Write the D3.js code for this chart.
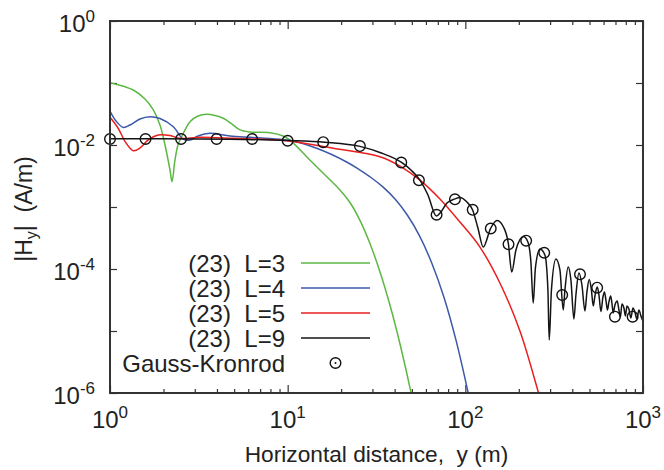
<!DOCTYPE html>
<html>
<head>
<meta charset="utf-8">
<script src="https://cdn.jsdelivr.net/npm/d3@7"></script>
<style>
body { margin: 0; background: #fff; }
text { font-family: "Liberation Sans", Arial, Helvetica, sans-serif; fill: #222; }
</style>
</head>
<body>
<script>
// (23) L=3
const l3X = [1, 1.352, 1.574, 1.753, 1.911, 2.04, 2.176, 2.233, 2.322, 2.413, 2.532, 2.82, 3.128, 3.501, 3.898, 4.341, 4.86, 5.39, 6.136, 7.95, 9.446, 10.3, 12.79, 15.86, 19.69, 22.42, 25.52, 29.05, 33.06, 37.64, 42.85, 49.41, 52.05];
const l3Y = [0.101, 0.0771, 0.0552, 0.0367, 0.021, 0.01, 0.00395, 0.00256, 0.00573, 0.01, 0.0136, 0.0238, 0.0294, 0.0313, 0.0299, 0.027, 0.0218, 0.0175, 0.0162, 0.0158, 0.014, 0.012, 0.00648, 0.0035, 0.00188, 1.18e-3, 6.08e-4, 2.58e-4, 9.04e-5, 2.62e-5, 6.22e-6, 1.02e-6, 4.65e-7];
// (23) L=4
const l4X = [1, 1.081, 1.188, 1.296, 1.475, 1.679, 1.911, 2.271, 2.585, 2.82, 3.128, 3.655, 4.735, 6.136, 7.95, 10.3, 14.56, 21.48, 25.16, 29.43, 34.47, 40.33, 47.23, 55.32, 64.7, 75.8, 88.6, 103.8, 108.9];
const l4Y = [0.0353, 0.0244, 0.0192, 0.021, 0.0263, 0.0286, 0.0267, 0.0197, 0.0124, 0.012, 0.014, 0.0154, 0.014, 0.0133, 0.0127, 0.0118, 0.00885, 0.00532, 4.04e-3, 2.99e-3, 2.09e-3, 1.33e-3, 7.35e-4, 3.4e-4, 1.25e-4, 3.51e-5, 7.11e-6, 1.0e-6, 5.16e-7];
// (23) L=5
const l5X = [1, 1.109, 1.23, 1.352, 1.475, 1.636, 1.87, 2.176, 2.477, 3.211, 4.942, 9.872, 18.06, 33.06, 42.85, 55.53, 71.96, 93.25, 120.8, 156.5, 202.9, 257.2, 269.8];
const l5Y = [0.028, 0.0188, 0.0108, 0.00809, 0.00895, 0.012, 0.0145, 0.0142, 0.0128, 0.0133, 0.0128, 0.0117, 0.00885, 0.00648, 0.00458, 0.00272, 1.35e-3, 5.73e-4, 2.26e-4, 5.95e-5, 1.0e-5, 1.04e-6, 6.33e-7];
// (23) L=9
const l9X = [1, 3.21, 10.17, 16.2, 25.5, 33.06, 43.98, 49.41, 55.53, 61.6, 68.78, 72.9, 78.8, 87.4, 93.25, 102.1, 109.9, 117.7, 126.1, 138.8, 150.6, 162.8, 174.8, 182.4, 192.7, 212.3, 225, 233.9, 241, 248, 262.9, 280.5, 291.6, 296.6, 305.2, 323.5, 340.7, 355.6, 363.5, 379.3, 392.9, 408.4, 419.2, 435.9, 453.2, 471.1, 483.5, 498.2, 512.5, 524.7, 536.3, 552.6, 564.9, 579.7, 594.9, 606.6, 618.5, 630.7, 643, 657.4, 668.3, 679.7, 695, 716, 731.9, 746.2, 761, 780.9, 796.3, 811.9, 833.2, 855.1, 877.5, 900.5, 924.1, 948.3, 973.2, 998.6];
const l9Y = [0.0126, 0.0125, 0.0118, 0.0111, 0.0095, 0.00757, 0.00518, 0.00395, 0.00272, 0.00156, 7.16e-4, 8.3e-4, 1.16e-3, 1.35e-3, 1.42e-3, 1.2e-3, 8.95e-4, 4.58e-4, 2.26e-4, 4.53e-4, 6.05e-4, 4.94e-4, 2.53e-4, 8.95e-5, 2.02e-4, 3.34e-4, 2.72e-4, 1.3e-4, 2.83e-5, 1.04e-4, 2.1e-4, 1.68e-4, 4.58e-5, 7.16e-6, 4.58e-5, 1.45e-4, 9.64e-5, 2.18e-5, 4.58e-5, 1.08e-4, 6.65e-5, 1.56e-5, 3.81e-5, 8.61e-5, 5.52e-5, 2.1e-5, 4.26e-5, 6.77e-5, 4.58e-5, 2.53e-5, 3.67e-5, 5.13e-5, 3.81e-5, 2.06e-5, 3.53e-5, 4.26e-5, 3.16e-5, 2.18e-5, 2.94e-5, 3.67e-5, 2.83e-5, 1.95e-5, 2.62e-5, 3.05e-5, 2.18e-5, 1.68e-5, 2.72e-5, 2.35e-5, 1.75e-5, 2.53e-5, 2.26e-5, 1.62e-5, 2.35e-5, 2.02e-5, 1.56e-5, 2.18e-5, 1.75e-5, 1.45e-5];
// Gauss-Kronrod
const gkX = [1, 1.585, 2.512, 3.981, 6.31, 10, 15.85, 25.5, 43.6, 54.8, 68.9, 87.4, 110, 139, 175, 220, 278, 351, 442, 552, 695, 874];
const gkY = [0.0125, 0.0125, 0.0125, 0.0125, 0.0125, 0.0117, 0.0111, 0.0096, 5.2e-3, 2.7e-3, 7.5e-4, 1.33e-3, 9.0e-4, 4.5e-4, 2.5e-4, 2.86e-4, 1.83e-4, 3.8e-5, 8.2e-5, 5.0e-5, 1.7e-5, 1.7e-5];

const legendLabels = ["(23)  L=3", "(23)  L=4", "(23)  L=5", "(23)  L=9", "Gauss-Kronrod"];
const xMajor = [1, 10, 100, 1000];
const yMajor = [1, 1e-1, 1e-2, 1e-3, 1e-4, 1e-5, 1e-6];
const yLabeled = [1, 1e-2, 1e-4, 1e-6];

const width = 664, height = 470;
const plotLeft = 110, plotRight = 643, plotTop = 21, plotBottom = 393;

const x = d3.scaleLog().domain([1, 1000]).range([plotLeft, plotRight]);
const y = d3.scaleLog().domain([1e-6, 1]).range([plotBottom, plotTop]);

const svg = d3.select("body").append("svg")
    .attr("width", width)
    .attr("height", height);

svg.append("defs").append("clipPath").attr("id", "plot")
    .append("rect")
    .attr("x", plotLeft).attr("y", plotTop)
    .attr("width", plotRight - plotLeft).attr("height", plotBottom - plotTop);

const xMinor = x.ticks().filter(v => xMajor.indexOf(v) < 0);

function styleAxis(g) {
    g.select(".domain").remove();
    g.selectAll("line").attr("stroke", "#333").attr("stroke-width", 1.2);
}

svg.append("g").attr("transform", "translate(0," + plotBottom + ")")
    .call(d3.axisBottom(x).tickValues(xMinor).tickSize(-4).tickFormat(""))
    .call(styleAxis);
svg.append("g").attr("transform", "translate(0," + plotBottom + ")")
    .call(d3.axisBottom(x).tickValues(xMajor).tickSize(-8).tickFormat(""))
    .call(styleAxis);
svg.append("g").attr("transform", "translate(0," + plotTop + ")")
    .call(d3.axisTop(x).tickValues(xMinor).tickSize(-4).tickFormat(""))
    .call(styleAxis);
svg.append("g").attr("transform", "translate(0," + plotTop + ")")
    .call(d3.axisTop(x).tickValues(xMajor).tickSize(-8).tickFormat(""))
    .call(styleAxis);
svg.append("g").attr("transform", "translate(" + plotLeft + ",0)")
    .call(d3.axisLeft(y).tickValues(yMajor).tickSize(-7).tickFormat(""))
    .call(styleAxis);
svg.append("g").attr("transform", "translate(" + plotRight + ",0)")
    .call(d3.axisRight(y).tickValues(yMajor).tickSize(-7).tickFormat(""))
    .call(styleAxis);

// tick labels
xMajor.forEach(v => {
    const t = svg.append("text")
        .attr("x", x(v)).attr("y", 428)
        .attr("text-anchor", "middle")
        .attr("font-size", 24);
    t.append("tspan").text("10");
    t.append("tspan").attr("dy", -10).attr("font-size", 17).text(Math.round(Math.log10(v)));
});
yLabeled.forEach(v => {
    const t = svg.append("text")
        .attr("x", 95).attr("y", y(v) + 11)
        .attr("text-anchor", "end")
        .attr("font-size", 24);
    t.append("tspan").text("10");
    t.append("tspan").attr("dy", -10).attr("font-size", 17).text(Math.round(Math.log10(v)));
});

// axis titles
svg.append("text")
    .attr("x", (plotLeft + plotRight) / 2).attr("y", 462)
    .attr("text-anchor", "middle")
    .attr("font-size", 22.7)
    .style("white-space", "pre")
    .text("Horizontal distance,  y (m)");

const yt = svg.append("text")
    .attr("transform", "translate(32,209) rotate(-90)")
    .attr("text-anchor", "middle")
    .attr("font-size", 23)
    .style("white-space", "pre");
yt.append("tspan").text("|H");
yt.append("tspan").attr("dy", 5).attr("font-size", 16).text("y");
yt.append("tspan").attr("dy", -5).text("|  (A/m)");

// curves
const series = [
    {xs: l3X, ys: l3Y, color: "#5cb843"},
    {xs: l4X, ys: l4Y, color: "#3c59a8"},
    {xs: l5X, ys: l5Y, color: "#ea1f1f"},
    {xs: l9X, ys: l9Y, color: "#141414"}
];

const smoothLine = d3.line()
    .x(d => x(d[0]))
    .y(d => y(d[1]))
    .curve(d3.curveCatmullRom.alpha(0.5));
const sharpLine = d3.line()
    .x(d => x(d[0]))
    .y(d => y(d[1]))
    .curve(d3.curveMonotoneX);

const plot = svg.append("g").attr("clip-path", "url(#plot)");
series.forEach((s, i) => {
    plot.append("path")
        .datum(s.xs.map((v, j) => [v, s.ys[j]]))
        .attr("d", i === 3 ? sharpLine : smoothLine)
        .attr("fill", "none")
        .attr("stroke", s.color)
        .attr("stroke-width", 1.5);
});

svg.append("g").selectAll("circle")
    .data(gkX.map((v, i) => [v, gkY[i]]))
    .enter().append("circle")
    .attr("cx", d => x(d[0]))
    .attr("cy", d => y(d[1]))
    .attr("r", 5.3)
    .attr("fill", "none")
    .attr("stroke", "#111")
    .attr("stroke-width", 1.4);

// frame
svg.append("rect")
    .attr("x", plotLeft).attr("y", plotTop)
    .attr("width", plotRight - plotLeft).attr("height", plotBottom - plotTop)
    .attr("fill", "none")
    .attr("stroke", "#333")
    .attr("stroke-width", 2);

// legend
const legend = svg.append("g");
legendLabels.forEach((label, i) => {
    const ly = 263 + i * 25;
    legend.append("text")
        .attr("x", 285).attr("y", ly + 8.5)
        .attr("text-anchor", "end")
        .attr("font-size", 24)
        .style("white-space", "pre")
        .text(label);
    if (i < series.length) {
        legend.append("line")
            .attr("x1", 301).attr("x2", 370)
            .attr("y1", ly).attr("y2", ly)
            .attr("stroke", series[i].color)
            .attr("stroke-width", 1.5);
    } else {
        legend.append("circle")
            .attr("cx", 335.5).attr("cy", ly)
            .attr("r", 5.3)
            .attr("fill", "none")
            .attr("stroke", "#111")
            .attr("stroke-width", 1.4);
        legend.append("circle")
            .attr("cx", 335.5).attr("cy", ly)
            .attr("r", 1)
            .attr("fill", "#111");
    }
});
</script>
</body>
</html>
